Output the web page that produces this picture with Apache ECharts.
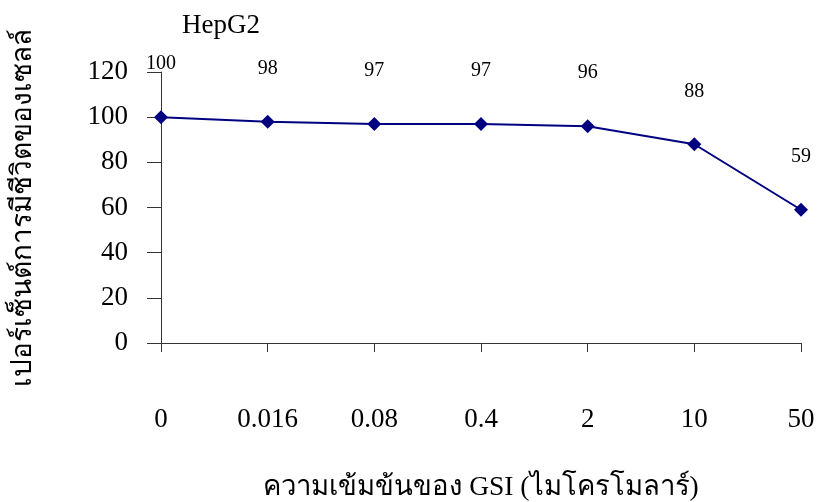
<!DOCTYPE html>
<html>
<head>
<meta charset="utf-8">
<script src="https://cdn.jsdelivr.net/npm/echarts@6/dist/echarts.min.js"></script>
<style>
  html, body { margin: 0; padding: 0; background: #fff; }
  #chart { width: 818px; height: 502px; }
</style>
</head>
<body>
<div id="chart"></div>
<script>
// GSI concentrations (µM) and HepG2 cell viability (%)
const concentrations = ['0', '0.016', '0.08', '0.4', '2', '10', '50'];
const viability = [100, 98, 97, 97, 96, 88, 59];
const yTicks = [0, 20, 40, 60, 80, 100, 120];

const serif = '"Liberation Serif", "Times New Roman", serif';

const chart = echarts.init(document.getElementById('chart'), null, { renderer: 'canvas' });
chart.setOption({
  animation: false,
  backgroundColor: '#ffffff',
  title: {
    text: 'HepG2',
    left: 177,
    top: 7,
    textStyle: { fontFamily: serif, fontSize: 27, fontWeight: 'normal', color: '#000' }
  },
  grid: { left: 161, right: 17, top: 72, bottom: 159, containLabel: false, outerBoundsMode: 'none' },
  xAxis: {
    type: 'category',
    data: concentrations,
    boundaryGap: false,
    name: 'ความเข้มข้นของ GSI (ไมโครโมลาร์)',
    nameLocation: 'middle',
    nameGap: 131,
    nameTextStyle: { fontFamily: serif, fontSize: 27.5, color: '#000' },
    axisLine: { lineStyle: { color: '#333', width: 1 } },
    axisTick: { alignWithLabel: true, length: 9, lineStyle: { color: '#333' } },
    axisLabel: { margin: 63, fontFamily: serif, fontSize: 27, color: '#000' },
    splitLine: { show: false }
  },
  yAxis: {
    type: 'value',
    min: yTicks[0],
    max: yTicks[yTicks.length - 1],
    interval: 20,
    name: 'เปอร์เซ็นต์การมีชีวิตของเซลล์',
    nameLocation: 'middle',
    nameGap: 123,
    nameTextStyle: { fontFamily: serif, fontSize: 28, color: '#000' },
    axisLine: { show: true, lineStyle: { color: '#333', width: 1 } },
    axisTick: { show: true, length: 14, lineStyle: { color: '#333' } },
    axisLabel: { margin: 33, fontFamily: serif, fontSize: 27, color: '#000' },
    splitLine: { show: false }
  },
  series: [{
    type: 'line',
    data: viability,
    symbol: 'diamond',
    symbolSize: 14,
    lineStyle: { color: '#000080', width: 2 },
    itemStyle: { color: '#000080' },
    label: {
      show: true,
      position: 'top',
      distance: 36,
      fontFamily: serif,
      fontSize: 20,
      color: '#000'
    }
  }]
});
</script>
</body>
</html>
